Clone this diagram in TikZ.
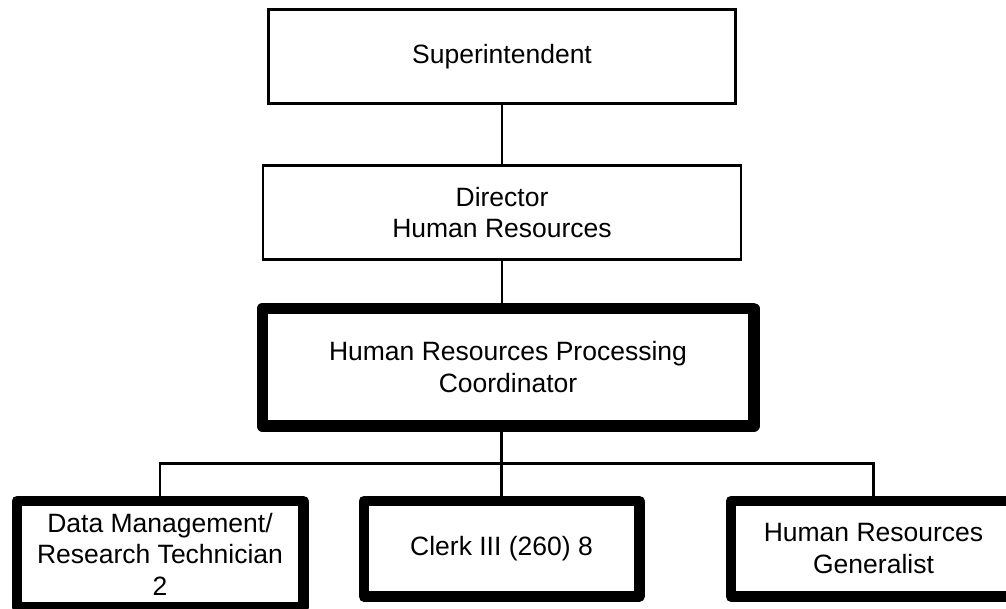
\documentclass[tikz,border=0pt]{standalone}
\usepackage{fontspec}
\setmainfont{Liberation Sans}
\usetikzlibrary{positioning, calc}

\begin{document}
\begin{tikzpicture}[
            x=1pt, y=-1pt,
            every node/.style={font=\fontsize{26.5}{31.7}\selectfont},
            thinbox/.style={
                    rectangle,
                    draw,
                    line width=2.7pt,
                    outer sep=0pt,
                    align=center
                },
            thickbox/.style={
                    rectangle,
                    draw,
                    line width=10.5pt,
                    line join=round,
                    outer sep=0pt,
                    align=center
                },
            link/.style={
                    line width=2.6pt
                },
            branch/.style={
                    line width=2.1pt
                }
            ]

            \useasboundingbox (0,0) rectangle (1006,609);

            % Nodes of the chart
            \node (sup) [thinbox, minimum width=467pt, minimum height=94pt] at (502,56.5) {Superintendent};

            \node (dir) [thinbox, minimum width=478pt, minimum height=94pt, below=62pt of sup] {Director\\Human Resources};

            \node (coord) [thickbox, line width=11.5pt, minimum width=491.5pt, minimum height=117.5pt, below=49pt of dir, xshift=6pt] {Human Resources Processing\\Coordinator};

            \node (clerk) [thickbox, minimum width=275.5pt, minimum height=95.5pt, below=75pt of coord, xshift=-6.5pt] {Clerk III (260) 8};

            \node (data) [thickbox, minimum width=286.5pt, minimum height=106.5pt, left=60.5pt of clerk.north west, anchor=north east] {Data Management/\\Research Technician\\2};

            \node (gen) [thickbox, minimum width=285.5pt, minimum height=95.5pt, right=91.5pt of clerk] {Human Resources\\Generalist};

            % Connecting lines
            \draw [link] (sup.south) -- (dir.north);
            \draw [link] (dir.south) -- (dir.south |- coord.north);

            \coordinate (bus) at ($(coord.south)!0.5!(clerk.north)$);
            \draw [branch] (clerk.north |- coord.south) -- (clerk.north);
            \draw [branch] (data.north) |- (bus) -| (gen.north);

        \end{tikzpicture}
\end{document}
